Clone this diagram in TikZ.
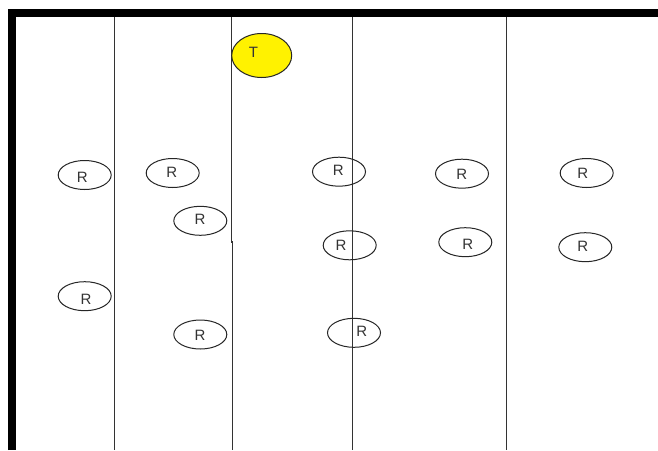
\documentclass[tikz,border=0pt]{standalone}
\usepackage{fontspec}
\setmainfont{Liberation Sans}
\usetikzlibrary{shapes.geometric}
\definecolor{lanegray}{HTML}{333333}
\definecolor{tyellow}{RGB}{255,242,0}
\tikzset{
  lane/.style={draw=lanegray, line width=1.3pt},
  rell/.style={ellipse, draw=black!85, line width=1pt, minimum width=53pt, minimum height=29pt, inner sep=0pt},
  tell/.style={ellipse, draw=black!85, fill=tyellow, line width=1pt, minimum width=60pt, minimum height=44pt, inner sep=0pt},
  etxt/.style={inner sep=0pt, font=\fontsize{15}{15}\selectfont, text=black!80},
}
\begin{document}
\begin{tikzpicture}[x=1pt,y=-1pt]
\useasboundingbox (0,0) rectangle (658,450);
\fill[white] (0,0) rectangle (658,450);
% lane lines
\coordinate (l1t) at (114.3,13); \coordinate (l1b) at (114.3,450);
\coordinate (l2t) at (231.7,13); \coordinate (l2m) at (231.7,242); \coordinate (l2n) at (232.6,242); \coordinate (l2b) at (232.6,450);
\coordinate (l3t) at (352.7,13); \coordinate (l3b) at (352.7,450);
\coordinate (l4t) at (506.7,13); \coordinate (l4b) at (506.7,450);
\draw[lane] (l1t) -- (l1b);
\draw[lane] (l2t) -- (l2m) -- (l2n) -- (l2b);
\draw[lane] (l3t) -- (l3b);
\draw[lane] (l4t) -- (l4b);
% border
\coordinate (bl) at (12,450); \coordinate (tl) at (12,13); \coordinate (tr) at (658,13);
\draw[line width=7.2pt, miter limit=10] (bl) -- (tl) -- (tr);
% T
\node[tell] (t) at (261.7,55.5) {};
\node[etxt] (tt) at (253.5,52) {T};
% R ellipses
\node[rell] (r1) at (84.7,175) {};
\node[etxt] (r1t) at (82.3,177.7) {R};
\node[rell] (r2) at (172.7,173) {};
\node[etxt] (r2t) at (171.7,172.7) {R};
\node[rell] (r3) at (200.3,220.8) {};
\node[etxt] (r3t) at (200,219) {R};
\node[rell] (r4) at (339,171.7) {};
\node[etxt] (r4t) at (338.3,170.7) {R};
\node[rell] (r5) at (462,173.7) {};
\node[etxt] (r5t) at (461.7,174.3) {R};
\node[rell] (r6) at (586.7,173) {};
\node[etxt] (r6t) at (582.7,173.3) {R};
\node[rell] (r7) at (349.7,245.3) {};
\node[etxt] (r7t) at (341,245) {R};
\node[rell] (r8) at (465.3,242.2) {};
\node[etxt] (r8t) at (467.7,244) {R};
\node[rell] (r9) at (585.3,247.2) {};
\node[etxt] (r9t) at (582.7,246.7) {R};
\node[rell] (r10) at (84.7,296.2) {};
\node[etxt] (r10t) at (86,299.3) {R};
\node[rell] (r11) at (200.3,334.5) {};
\node[etxt] (r11t) at (200,335.7) {R};
\node[rell] (r12) at (354,332.8) {};
\node[etxt] (r12t) at (361.7,331) {R};
\end{tikzpicture}
\end{document}
